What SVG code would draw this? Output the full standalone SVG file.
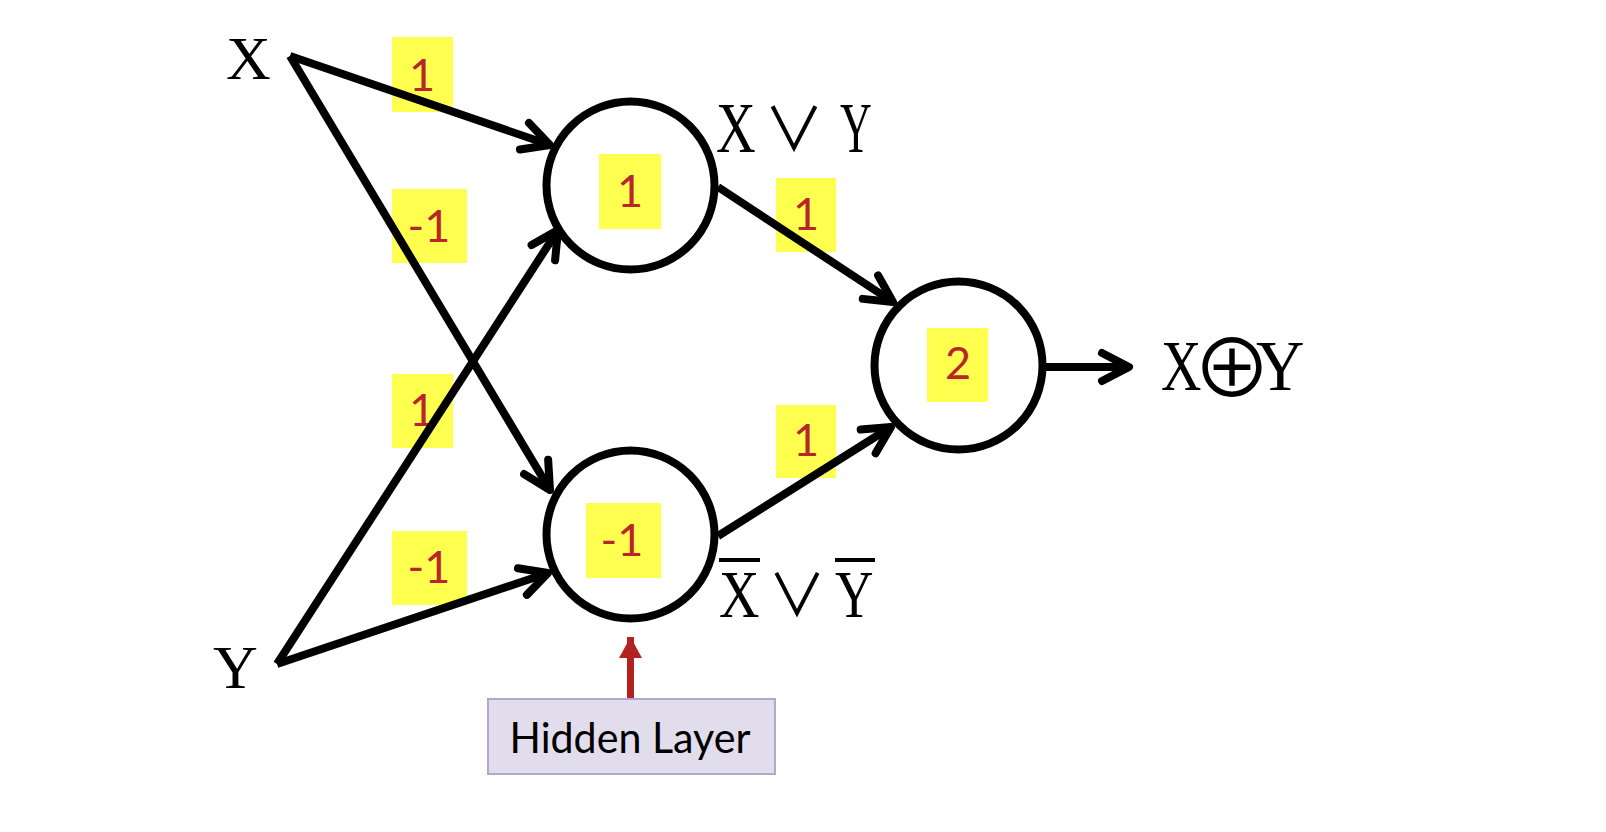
<svg xmlns="http://www.w3.org/2000/svg" width="1606" height="832" viewBox="0 0 1606 832">
<style>
.lbl{font-family:"Liberation Serif","DejaVu Serif",serif;fill:#000}
.sym{font-family:"Noto Sans CJK JP","DejaVu Sans",sans-serif;fill:#000}
.w{fill:#FFFF50}
.wt{font-family:Lato,"Liberation Sans",sans-serif;font-size:45px;fill:#B8252A;text-anchor:middle}
.node{fill:#fff;stroke:#000;stroke-width:8}
.edge{stroke:#000;stroke-width:8;fill:none;marker-end:url(#arr)}
</style>
<defs>
<marker id="arr" markerUnits="userSpaceOnUse" viewBox="-34 -20 40 40" refX="0" refY="0" markerWidth="40" markerHeight="40" orient="auto" overflow="visible">
<path d="M-27,-14 L0,0 L-27,14" fill="none" stroke="#000" stroke-width="8" stroke-linecap="round" stroke-linejoin="round"/>
</marker>
<marker id="redarr" markerUnits="userSpaceOnUse" viewBox="-22 -12 24 24" refX="0" refY="0" markerWidth="24" markerHeight="24" orient="auto" overflow="visible">
<path d="M-21,-11.5 L0,0 L-21,11.5 Z" fill="#B0231F"/>
</marker>
</defs>
<rect width="1606" height="832" fill="#fff"/>

<g id="weights">
<rect class="w" x="392" y="37" width="61" height="75"/><text class="wt" x="422" y="91">1</text>
<rect class="w" x="392" y="189" width="75" height="74"/><text class="wt" x="429" y="242">-1</text>
<rect class="w" x="392" y="374" width="61" height="74"/><text class="wt" x="422" y="426">1</text>
<rect class="w" x="392" y="531" width="75" height="74"/><text class="wt" x="429" y="583">-1</text>
<rect class="w" x="776" y="178" width="60" height="74"/><text class="wt" x="806" y="230">1</text>
<rect class="w" x="776" y="405" width="60" height="73"/><text class="wt" x="806" y="456">1</text>
</g>

<g id="connectors">
<line class="edge" x1="290" y1="56" x2="550" y2="145"/>
<line class="edge" x1="290" y1="56" x2="550" y2="490"/>
<line class="edge" x1="277" y1="664" x2="558" y2="230"/>
<line class="edge" x1="277" y1="664" x2="548" y2="573"/>
<line class="edge" x1="718" y1="187" x2="893" y2="302"/>
<line class="edge" x1="718" y1="536" x2="891" y2="427"/>
<line class="edge" x1="1045" y1="367" x2="1129" y2="367"/>
<line x1="630.5" y1="698" x2="630.5" y2="637" stroke="#B0231F" stroke-width="7" marker-end="url(#redarr)"/>
</g>

<g id="input-x"><text class="lbl" x="226" y="79" font-size="62">X</text></g>
<g id="input-y"><text class="lbl" x="213" y="688" font-size="62">Y</text></g>

<g id="hidden-or">
<circle class="node" cx="630.5" cy="185.5" r="84"/>
<rect class="w" x="599" y="154" width="62" height="75"/><text class="wt" x="630" y="207">1</text>
<g id="label-or">
<text class="lbl" font-size="55" transform="translate(716,152) scale(1,1.3)">X</text>
<text class="sym" font-size="60" text-anchor="middle" transform="translate(794,151)">∨</text>
<text class="lbl" font-size="55" transform="translate(840,152) scale(0.8,1.3)">Y</text>
</g>
</g>

<g id="hidden-nand">
<circle class="node" cx="630.5" cy="534.5" r="84"/>
<rect class="w" x="586" y="503" width="75" height="75"/><text class="wt" x="622" y="556">-1</text>
<g id="label-nand">
<text class="lbl" font-size="56" transform="translate(719,617) scale(1,1.2)">X</text>
<rect x="719" y="558" width="41" height="4" fill="#000"/>
<text class="sym" font-size="58" text-anchor="middle" transform="translate(797,616)">∨</text>
<text class="lbl" font-size="56" transform="translate(835,617) scale(0.95,1.2)">Y</text>
<rect x="835" y="558" width="40" height="4" fill="#000"/>
</g>
</g>

<g id="output">
<circle class="node" cx="958.5" cy="365.5" r="84"/>
<rect class="w" x="927" y="328" width="61" height="74"/><text class="wt" x="958" y="379">2</text>
<g id="label-xor">
<text class="lbl" font-size="56" transform="translate(1161,390) scale(1,1.3)">X</text>
<text class="sym" font-size="80" text-anchor="middle" transform="translate(1232,397)">⊕</text>
<text class="lbl" font-size="56" transform="translate(1256,390) scale(1.2,1.3)">Y</text>
</g>
</g>

<g id="hidden-layer-note">
<rect x="488" y="699" width="287" height="75" fill="#E2DDEC" stroke="#B3A6CF" stroke-width="2"/>
<text x="630" y="753" font-family="Lato,'Liberation Sans',sans-serif" font-size="42" fill="#000" text-anchor="middle" textLength="241" lengthAdjust="spacingAndGlyphs">Hidden Layer</text>
</g>
</svg>
